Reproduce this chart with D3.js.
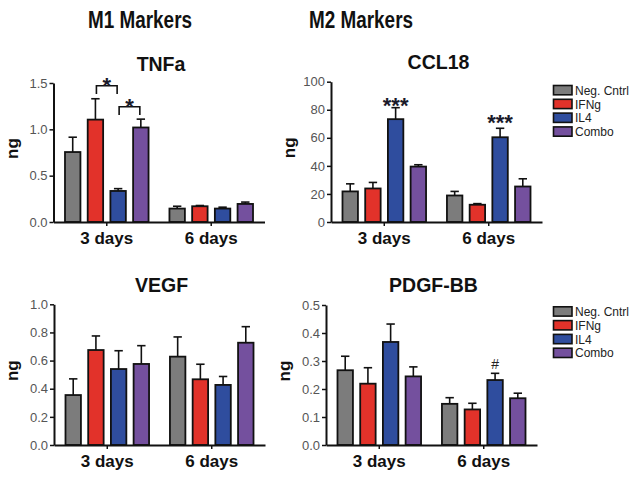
<!DOCTYPE html>
<html><head><meta charset="utf-8">
<script src="https://cdn.jsdelivr.net/npm/d3@7"></script>
<style>
body{margin:0;background:#fff;}
svg{display:block;font-family:"Liberation Sans",Arial,Helvetica,sans-serif;}
</style></head>
<body>
<svg id="c" width="644" height="481"></svg>
<script>
const categories = ["3 days","6 days"];
const series = ["Neg. Cntrl","IFNg","IL4","Combo"];
const colors = ["#7c7c7c","#e2322a","#2f4d9e","#74509e"];

const tnfaMean = [[0.755,1.105,0.335,1.02],[0.145,0.17,0.145,0.195]];
const tnfaErr  = [[0.16,0.225,0.025,0.09],[0.025,0.008,0.015,0.02]];
const tnfaTicks = [0,0.5,1.0,1.5];

const ccl18Mean = [[21.8,23.9,73.3,39.5],[18.9,12.3,60.4,25.3]];
const ccl18Err  = [[5.4,4.3,8.2,1.3],[2.9,0.8,6.4,5.5]];
const ccl18Ticks = [0,20,40,60,80,100];

const vegfMean = [[0.355,0.675,0.54,0.576],[0.628,0.467,0.427,0.727]];
const vegfErr  = [[0.115,0.10,0.13,0.13],[0.14,0.107,0.06,0.114]];
const vegfTicks = [0,0.2,0.4,0.6,0.8,1.0];

const pdgfMean = [[0.267,0.219,0.368,0.245],[0.147,0.127,0.232,0.167]];
const pdgfErr  = [[0.05,0.057,0.064,0.034],[0.022,0.022,0.024,0.018]];
const pdgfTicks = [0,0.1,0.2,0.3,0.4,0.5];

const svg = d3.select("#c");

// section headers
svg.append("text").attr("x",140).attr("y",28).attr("text-anchor","middle")
  .attr("font-size",23).attr("font-weight","bold").attr("fill","#111")
  .attr("textLength",104).attr("lengthAdjust","spacingAndGlyphs").text("M1 Markers");
svg.append("text").attr("x",361).attr("y",28).attr("text-anchor","middle")
  .attr("font-size",23).attr("font-weight","bold").attr("fill","#111")
  .attr("textLength",104).attr("lengthAdjust","spacingAndGlyphs").text("M2 Markers");

const panels = [
  {title:"TNFa", mean:tnfaMean, err:tnfaErr, ticks:tnfaTicks, fmt:d3.format(".1f"),
   ax:53.5, top:83, bottom:222, titleY:71, legend:false},
  {title:"CCL18", mean:ccl18Mean, err:ccl18Err, ticks:ccl18Ticks, fmt:d3.format("d"),
   ax:331, top:81.7, bottom:222, titleY:69, legend:true, legendY:85.5},
  {title:"VEGF", mean:vegfMean, err:vegfErr, ticks:vegfTicks, fmt:d3.format(".1f"),
   ax:54, top:304.3, bottom:445, titleY:292, legend:false},
  {title:"PDGF-BB", mean:pdgfMean, err:pdgfErr, ticks:pdgfTicks, fmt:d3.format(".1f"),
   ax:326, top:305, bottom:445, titleY:292, legend:true, legendY:306.8}
];

panels.forEach(p => {
  const g = svg.append("g");
  const x0 = d3.scaleBand().domain(categories).range([p.ax, p.ax+211])
    .paddingInner(0.2).paddingOuter(0.11);
  const x1 = d3.scaleBand().domain(series).range([0, x0.bandwidth()])
    .paddingInner(0.32).paddingOuter(0);
  const y = d3.scaleLinear().domain([0, d3.max(p.ticks)]).range([p.bottom, p.top]);
  p.x0 = x0; p.x1 = x1; p.y = y;

  // title
  g.append("text").attr("x", (x0.range()[0]+x0.range()[1])/2 + 2).attr("y", p.titleY)
    .attr("text-anchor","middle").attr("font-size",19.5).attr("font-weight","bold")
    .attr("fill","#111").text(p.title);

  // y label
  const cy = (p.top+p.bottom)/2 - 4;
  g.append("text").attr("transform",`translate(${p.ax-36},${cy}) rotate(-90)`)
    .attr("text-anchor","middle").attr("font-size",17).attr("font-weight","bold")
    .attr("fill","#111").text("ng");

  // bars
  categories.forEach((c, ci) => {
    series.forEach((s, si) => {
      const m = p.mean[ci][si], e = p.err[ci][si];
      const bx = x0(c) + x1(s);
      const cx = bx + x1.bandwidth()/2;
      g.append("line").attr("x1",cx).attr("x2",cx).attr("y1",y(m)).attr("y2",y(m+e))
        .attr("stroke","#111").attr("stroke-width",1.6);
      g.append("line").attr("x1",cx-4.2).attr("x2",cx+4.2).attr("y1",y(m+e)).attr("y2",y(m+e))
        .attr("stroke","#111").attr("stroke-width",1.6);
      g.append("rect").attr("x",bx).attr("y",y(m)).attr("width",x1.bandwidth())
        .attr("height",y(0)-y(m)).attr("fill",colors[si])
        .attr("stroke","#111").attr("stroke-width",1.8);
    });
  });

  // axes
  const ya = g.append("g").attr("transform",`translate(${p.ax},0)`)
    .call(d3.axisLeft(y).tickValues(p.ticks).tickFormat(p.fmt).tickSize(4).tickSizeOuter(0).tickPadding(2));
  ya.select(".domain").attr("stroke","#111").attr("stroke-width",2);
  ya.selectAll(".tick line").attr("stroke","#111").attr("stroke-width",1.5);
  ya.selectAll(".tick text").attr("font-size",13).attr("fill","#555").attr("font-family","inherit");

  const xa = g.append("g").attr("transform",`translate(0,${p.bottom})`)
    .call(d3.axisBottom(x0).tickSize(4).tickSizeOuter(0).tickPadding(6));
  xa.select(".domain").attr("stroke","#111").attr("stroke-width",2);
  xa.selectAll(".tick line").attr("stroke","#111").attr("stroke-width",1.5);
  xa.selectAll(".tick text").attr("font-size",17).attr("font-weight","bold")
    .attr("fill","#111").attr("font-family","inherit");

  // legend
  if (p.legend) {
    series.forEach((s, si) => {
      const ly = p.legendY + si*13.8;
      svg.append("rect").attr("x",553.5).attr("y",ly).attr("width",18.5).attr("height",9.3)
        .attr("fill",colors[si]).attr("stroke","#111").attr("stroke-width",1.6);
      svg.append("text").attr("x",575).attr("y",ly+9.2).attr("font-size",12)
        .attr("fill","#222").text(s);
    });
  }
});

// significance annotations
function stars(p, ci, si, txt, yc, size) {
  const cx = p.x0(categories[ci]) + p.x1(series[si]) + p.x1.bandwidth()/2;
  svg.append("text").attr("x",cx).attr("y",yc + size*0.6).attr("text-anchor","middle")
    .attr("font-size",size).attr("font-weight","bold").attr("fill","#1a1a2a").text(txt);
}
function bracket(p, ci, sa, sb, yTop, yLeg, starY) {
  const xa = p.x0(categories[ci]) + p.x1(series[sa]) + p.x1.bandwidth()/2 + 1;
  const xb = p.x0(categories[ci]) + p.x1(series[sb]) + p.x1.bandwidth()/2 - 1;
  svg.append("path").attr("d",`M${xa},${yLeg}V${yTop}H${xb}V${yLeg}`)
    .attr("fill","none").attr("stroke","#111").attr("stroke-width",1.6);
  svg.append("text").attr("x",(xa+xb)/2).attr("y",starY + 22*0.6).attr("text-anchor","middle")
    .attr("font-size",22).attr("font-weight","bold").attr("fill","#1a1a2a").text("*");
}
const tn = panels[0], cc = panels[1], pd = panels[3];
bracket(tn, 0, 1, 2, 85.7, 94, 80);
bracket(tn, 0, 2, 3, 106.7, 115, 101);
stars(cc, 0, 2, "***", 99.5, 22);
stars(cc, 1, 2, "***", 116.7, 22);
const hx = pd.x0(categories[1]) + pd.x1(series[2]) + pd.x1.bandwidth()/2;
svg.append("text").attr("x",hx).attr("y",368.5).attr("text-anchor","middle")
  .attr("font-size",14).attr("fill","#222").text("#");
</script>
</body></html>
